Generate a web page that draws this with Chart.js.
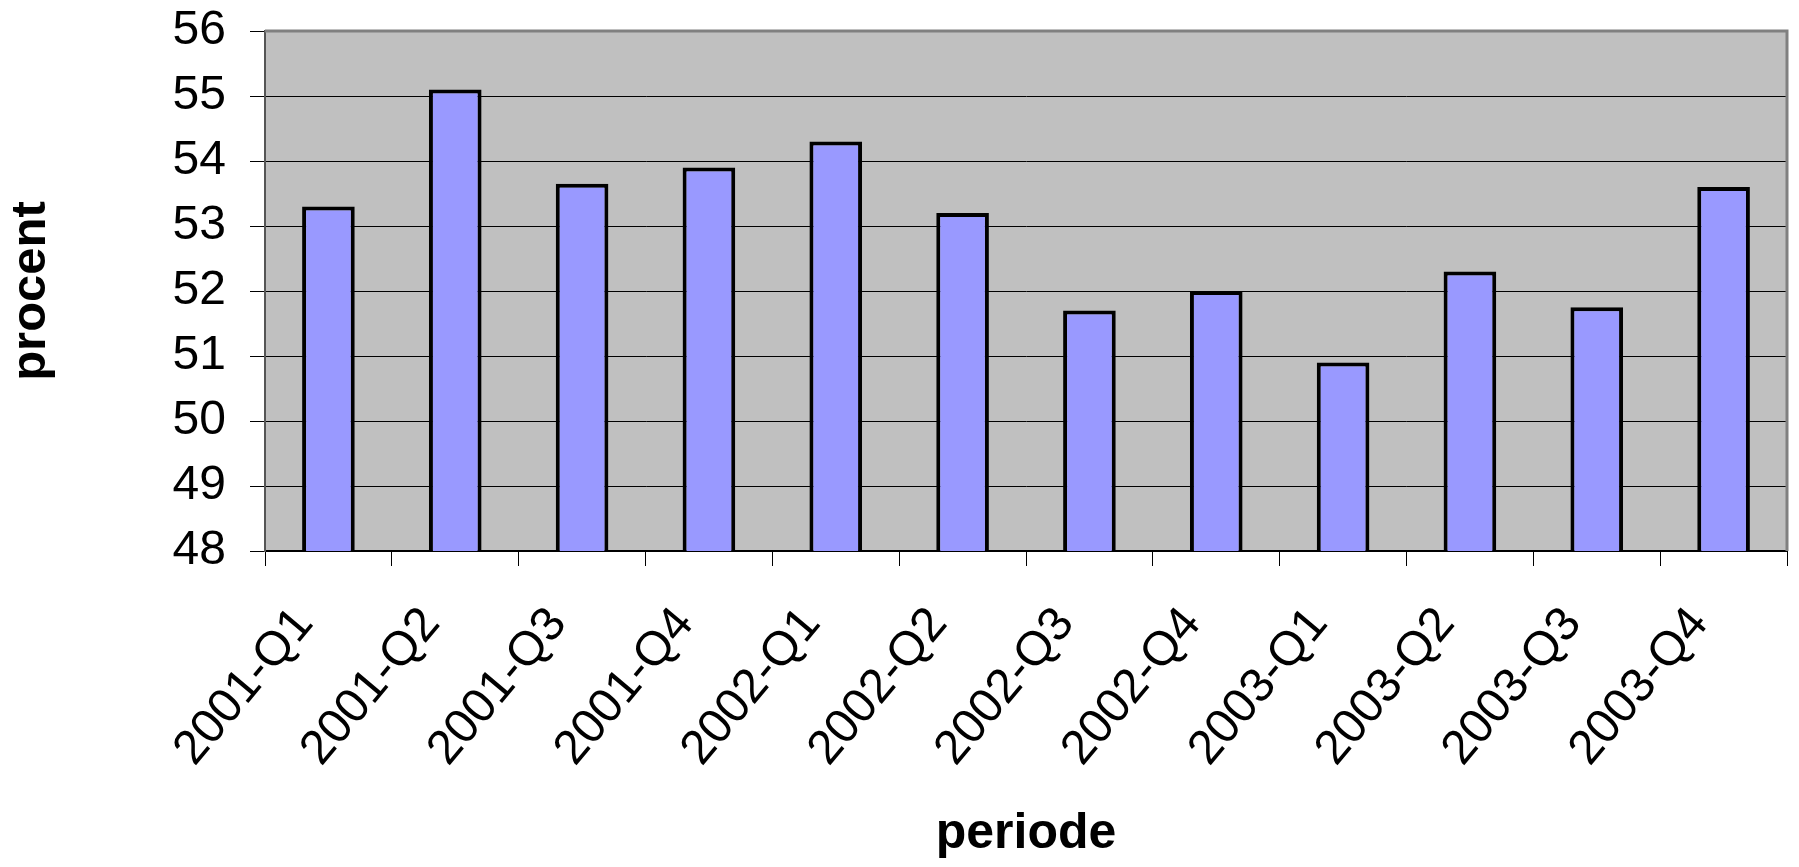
<!DOCTYPE html>
<html>
<head>
<meta charset="utf-8">
<script src="https://cdn.jsdelivr.net/npm/chart.js@4/dist/chart.umd.min.js"></script>
<style>
  html, body { margin: 0; padding: 0; background: #ffffff; }
  #wrap { width: 1799px; height: 867px; }
</style>
</head>
<body>
<div id="wrap"><canvas id="c" width="1799" height="867"></canvas></div>
<script>
const categories = ["2001-Q1","2001-Q2","2001-Q3","2001-Q4","2002-Q1","2002-Q2","2002-Q3","2002-Q4","2003-Q1","2003-Q2","2003-Q3","2003-Q4"];
const values = [53.3, 55.1, 53.65, 53.9, 54.3, 53.2, 51.7, 52.0, 50.9, 52.3, 51.75, 53.6];
const yMin = 48;
const yMax = 56;
const yStep = 1;
const xTitle = "periode";
const yTitle = "procent";

const FONT = "'Liberation Sans', Arial, sans-serif";

const plotFrame = {
  id: 'plotFrame',
  beforeDraw(chart) {
    const a = chart.chartArea, ctx = chart.ctx;
    ctx.save();
    ctx.fillStyle = '#c0c0c0';
    ctx.fillRect(a.left, a.top, a.right - a.left, a.bottom - a.top);
    ctx.restore();
  },
  afterDraw(chart) {
    const a = chart.chartArea, ctx = chart.ctx;
    ctx.save();
    ctx.strokeStyle = '#808080';
    ctx.lineWidth = 3;
    ctx.beginPath();
    ctx.moveTo(a.left, a.top);
    ctx.lineTo(a.right, a.top);
    ctx.lineTo(a.right, a.bottom);
    ctx.stroke();
    ctx.restore();
  }
};

new Chart(document.getElementById('c'), {
  type: 'bar',
  data: {
    labels: categories,
    datasets: [{
      data: values,
      backgroundColor: '#9999ff',
      borderColor: '#000000',
      borderWidth: 4,
      borderSkipped: false,
      barPercentage: 0.415,
      categoryPercentage: 1.0
    }]
  },
  options: {
    responsive: false,
    devicePixelRatio: 1,
    animation: false,
    layout: { padding: { top: 31, right: 12, left: 0, bottom: 0 } },
    plugins: { legend: { display: false }, tooltip: { enabled: false } },
    scales: {
      x: {
        grid: { display: true, drawOnChartArea: false, drawTicks: true, tickLength: 15, color: '#000000', lineWidth: 1, offset: true },
        border: { display: true, color: '#000000', width: 2 },
        ticks: {
          color: '#000000',
          font: { family: FONT, size: 48 },
          minRotation: 50, maxRotation: 50,
          autoSkip: false,
          padding: 31,
          labelOffset: -24
        },
        title: { display: true, text: xTitle, color: '#000000', font: { family: FONT, size: 50, weight: 'bold' }, padding: { top: 0, bottom: 3 } },
        afterFit(scale) {
          scale.height = 316;
          scale.paddingLeft = 0;
          scale.paddingRight = 0;
        }
      },
      y: {
        min: yMin, max: yMax,
        grid: { color: '#000000', lineWidth: 1, tickLength: 15, drawTicks: true, tickColor: '#000000' },
        border: { display: true, color: '#555555', width: 2 },
        ticks: { stepSize: yStep, color: '#000000', font: { family: FONT, size: 48 }, padding: 24 },
        title: { display: true, text: yTitle, color: '#000000', font: { family: FONT, size: 49, weight: 'bold' }, padding: { top: 2, bottom: 0 } },
        afterFit(scale) {
          scale.width = 265;
          scale.paddingTop = 0;
          scale.paddingBottom = 0;
        }
      }
    }
  },
  plugins: [plotFrame]
});
</script>
</body>
</html>
